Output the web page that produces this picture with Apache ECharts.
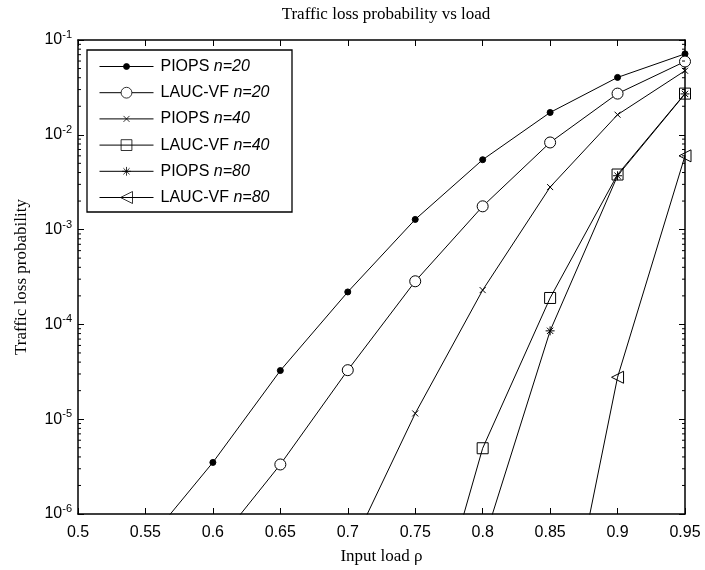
<!DOCTYPE html>
<html>
<head>
<meta charset="utf-8">
<script src="https://cdn.jsdelivr.net/npm/echarts@6/dist/echarts.min.js"></script>
<style>html,body{margin:0;padding:0;background:#fff;}#c{width:705px;height:570px;}</style>
</head>
<body>
<div id="c"></div>
<script>
// Input loads (x values)
const loads = [0.55, 0.6, 0.65, 0.7, 0.75, 0.8, 0.85, 0.9, 0.95];
// Series values aligned with loads (null = no point)
const piops20 = [4.8e-7, 3.5e-6, 3.26e-5, 2.2e-4, 1.28e-3, 5.46e-3, 1.72e-2, 4.03e-2, 7.14e-2];
const lauc20  = [null, 4.3e-7, 3.33e-6, 3.29e-5, 2.85e-4, 1.76e-3, 8.3e-3, 2.72e-2, 5.93e-2];
const piops40 = [null, null, null, 3.7e-7, 1.15e-5, 2.3e-4, 2.81e-3, 1.63e-2, 4.74e-2];
const lauc40  = [null, null, null, null, 1.6e-8, 4.94e-6, 1.9e-4, 3.81e-3, 2.72e-2];
const piops80 = [null, null, null, null, null, 4.7e-7, 8.55e-5, 3.7e-3, 2.7e-2];
const lauc80  = [null, null, null, null, null, null, 8.5e-9, 2.77e-5, 6.0e-3];
const seriesNames = ['PIOPS n=20', 'LAUC-VF n=20', 'PIOPS n=40', 'LAUC-VF n=40', 'PIOPS n=80', 'LAUC-VF n=80'];
const xTicks = [0.5, 0.55, 0.6, 0.65, 0.7, 0.75, 0.8, 0.85, 0.9, 0.95];
const yMin = 1e-6, yMax = 1e-1;

function pairs(vals) {
  const out = [];
  vals.forEach((v, i) => { if (v !== null) out.push([loads[i], v]); });
  return out;
}

const XPATH = 'path://M0,0L10,10M10,0L0,10';
const STARPATH = 'path://M5,0L5,10M0,5L10,5M1.5,1.5L8.5,8.5M8.5,1.5L1.5,8.5';

const styles = [
  { symbol: 'circle', symbolSize: 6, itemStyle: { color: '#000', borderColor: '#000', borderWidth: 1 } },
  { symbol: 'circle', symbolSize: 11, itemStyle: { color: '#fff', borderColor: '#000', borderWidth: 1 } },
  { symbol: XPATH, symbolSize: 6, itemStyle: { color: 'none', borderColor: '#000', borderWidth: 1 } },
  { symbol: 'rect', symbolSize: 11, itemStyle: { color: 'none', borderColor: '#000', borderWidth: 1 } },
  { symbol: STARPATH, symbolSize: 9, itemStyle: { color: 'none', borderColor: '#000', borderWidth: 1 } },
  { symbol: 'triangle', symbolSize: 12, symbolRotate: 90, itemStyle: { color: 'none', borderColor: '#000', borderWidth: 1 } }
];
// legend icon heights (symbol drawn at 80% of it)
const legendIconH = [7.5, 13.5, 7.5, 13.5, 11, 15];
const dataSets = [piops20, lauc20, piops40, lauc40, piops80, lauc80];

const series = dataSets.map((d, i) => Object.assign({
  name: seriesNames[i],
  type: 'line',
  data: pairs(d),
  clip: true,
  showAllSymbol: true,
  lineStyle: { color: '#000', width: 1 },
  emphasis: { disabled: true },
  animation: false
}, styles[i]));

const legends = seriesNames.map((name, i) => ({
  orient: 'vertical', left: 99, top: 56.5 + i * 26.2,
  data: [name],
  itemWidth: 54, itemHeight: legendIconH[i],
  padding: 0, selectedMode: false, z: 5,
  itemStyle: { borderWidth: 0.8 },
  lineStyle: { width: 1 },
  formatter: n => { const p = n.split(' '); return p[0] + ' {i|' + p[1] + '}'; },
  textStyle: { fontFamily: 'Liberation Sans, Arial', fontSize: 16, lineHeight: 20, color: '#000', padding: [0, 0, 0, 2],
    rich: { i: { fontFamily: 'Liberation Sans, Arial', fontSize: 16, lineHeight: 20, fontStyle: 'italic', color: '#000' } } }
}));

const chart = echarts.init(document.getElementById('c'), null, { renderer: 'canvas' });

const axisFont = 'Liberation Sans, Arial';
const option = {
  backgroundColor: '#fff',
  animation: false,
  title: {
    text: 'Traffic loss probability vs load',
    left: 381, top: 1, textAlign: 'center',
    textStyle: { fontFamily: 'Liberation Serif, Times New Roman', fontSize: 17, fontWeight: 'normal', color: '#000' }
  },
  grid: { left: 78, right: 20, top: 40, bottom: 52, show: false },
  legend: legends,
  xAxis: [{
    type: 'value', min: 0.5, max: 0.95, interval: 0.05,
    name: 'Input load \u03c1', nameLocation: 'middle', nameGap: 34,
    nameTextStyle: { fontFamily: 'Liberation Serif, Times New Roman', fontSize: 17, color: '#000' },
    axisLine: { onZero: false, lineStyle: { color: '#000', width: 1.5 } },
    axisTick: { inside: true, length: 6, lineStyle: { color: '#000', width: 1 } },
    axisLabel: { color: '#000', fontFamily: axisFont, fontSize: 16, margin: 11,
      formatter: v => String(parseFloat(v.toFixed(2))) },
    splitLine: { show: false }
  }, {
    type: 'value', min: 0.5, max: 0.95, interval: 0.05, position: 'top',
    axisLine: { onZero: false, lineStyle: { color: '#000', width: 1.5 } },
    axisTick: { inside: true, length: 6, lineStyle: { color: '#000', width: 1 } },
    axisLabel: { show: false }, splitLine: { show: false }
  }],
  yAxis: [{
    type: 'log', logBase: 10, min: yMin, max: yMax,
    name: 'Traffic loss probability', nameLocation: 'middle', nameGap: 48,
    nameTextStyle: { fontFamily: 'Liberation Serif, Times New Roman', fontSize: 17, color: '#000' },
    axisLine: { onZero: false, lineStyle: { color: '#000', width: 1.5 } },
    axisTick: { inside: true, length: 6, lineStyle: { color: '#000', width: 1 } },
    axisLabel: {
      formatter: v => '10{s|' + Math.round(Math.log10(v)) + '}',
      color: '#000', fontFamily: axisFont, fontSize: 16, margin: 6,
      rich: { s: { fontSize: 11, verticalAlign: 'bottom', padding: [0, 0, 10, 0], fontFamily: axisFont, color: '#000' } }
    },
    splitLine: { show: false }
  }, {
    type: 'log', logBase: 10, min: yMin, max: yMax, position: 'right',
    axisLine: { onZero: false, lineStyle: { color: '#000', width: 1.5 } },
    axisTick: { inside: true, length: 6, lineStyle: { color: '#000', width: 1 } },
    axisLabel: { show: false }, splitLine: { show: false }
  }],
  series: series
};
chart.setOption(option);

// legend frame + minor ticks (log-spaced 2..9 in each decade) placed through the y axis scale
function drawExtras() {
  const els = [{
    type: 'rect', silent: true, z: 4,
    shape: { x: 87, y: 50, width: 205, height: 162 },
    style: { fill: '#fff', stroke: '#000', lineWidth: 1.3 }
  }];
  const gridRect = chart.getModel().getComponent('grid').coordinateSystem.getRect();
  const xl = gridRect.x, xr = gridRect.x + gridRect.width;
  for (let e = -6; e < -1; e++) {
    for (let m = 2; m <= 9; m++) {
      const v = m * Math.pow(10, e);
      const py = chart.convertToPixel({ yAxisIndex: 0 }, v);
      els.push({ type: 'line', silent: true, z: 10, shape: { x1: xl, y1: py, x2: xl + 3, y2: py }, style: { stroke: '#000', lineWidth: 1 } });
      els.push({ type: 'line', silent: true, z: 10, shape: { x1: xr, y1: py, x2: xr - 3, y2: py }, style: { stroke: '#000', lineWidth: 1 } });
    }
  }
  chart.setOption({ graphic: { elements: els } });
}
drawExtras();
</script>
</body>
</html>
